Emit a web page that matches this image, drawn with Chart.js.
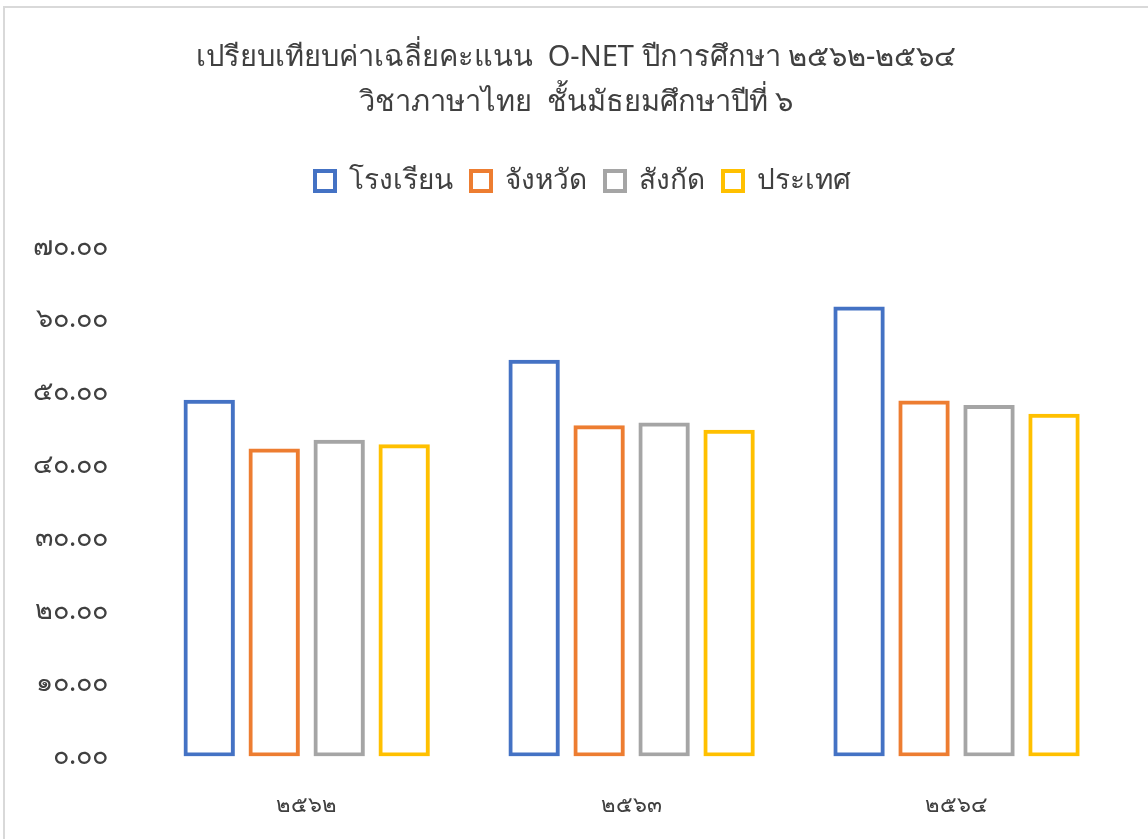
<!DOCTYPE html>
<html>
<head>
<meta charset="utf-8">
<script src="https://cdn.jsdelivr.net/npm/chart.js@4.4.0/dist/chart.umd.min.js"></script>
<style>
  html, body { margin: 0; padding: 0; background: #fff; overflow: hidden; }
  #wrap {
    position: absolute; left: 3px; top: 6px; width: 1160px; height: 840px;
    border-left: 2px solid #d9d9d9; border-top: 2px solid #d9d9d9;
    box-sizing: border-box;
  }
  #box { position: absolute; left: 0; top: 0; width: 1150px; height: 839px; }
</style>
</head>
<body>
<div id="wrap"><div id="box"><canvas id="onetChart"></canvas></div></div>
<script>
// ข้อมูลคะแนนเฉลี่ย O-NET วิชาภาษาไทย ม.6
const years = ["๒๕๖๒", "๒๕๖๓", "๒๕๖๔"];
const school = [49.0, 54.5, 61.8];
const province = [42.3, 45.5, 48.9];
const affiliation = [43.5, 45.9, 48.3];
const country = [42.9, 44.9, 47.1];
const yTickLabels = ["๐.๐๐", "๑๐.๐๐", "๒๐.๐๐", "๓๐.๐๐", "๔๐.๐๐", "๕๐.๐๐", "๖๐.๐๐", "๗๐.๐๐"];

const fontFamily = "'Noto Sans', 'DejaVu Sans', sans-serif";

const makeSet = (label, data, color) => ({
  label: label,
  data: data,
  backgroundColor: "rgba(0,0,0,0)",
  borderColor: color,
  borderWidth: 4,
  borderSkipped: false,
});

// เพิ่มช่องว่างใต้ legend และเลื่อนหัวเรื่อง/legend ไปทางขวาเล็กน้อย
const legendGap = {
  id: "legendGap",
  beforeInit(chart) {
    const fit = chart.legend.fit;
    chart.legend.fit = function () {
      fit.bind(chart.legend)();
      this.height += 42;
    };
  },
  afterLayout(chart) {
    chart.titleBlock.left += 14;
    chart.titleBlock.right += 14;
    chart.legend.left += 21;
    chart.legend.right += 21;
  },
};

const ctx = document.getElementById("onetChart").getContext("2d");

const chart = new Chart(ctx, {
  type: "bar",
  data: {
    labels: years,
    datasets: [
      makeSet("โรงเรียน", school, "#4472C4"),
      makeSet("จังหวัด", province, "#ED7D31"),
      makeSet("สังกัด", affiliation, "#A5A5A5"),
      makeSet("ประเทศ", country, "#FFC000"),
    ],
  },
  options: {
    responsive: true,
    maintainAspectRatio: false,
    animation: false,
    layout: {
      padding: { left: 0, right: 36, top: 27, bottom: 0 },
    },
    datasets: {
      bar: { categoryPercentage: 0.8, barPercentage: 0.79 },
    },
    scales: {
      x: {
        grid: { display: false },
        border: { display: false },
        ticks: {
          color: "#404040",
          font: { family: fontFamily, size: 22 },
          padding: 28,
        },
      },
      y: {
        min: 0,
        max: 70,
        ticks: {
          stepSize: 10,
          color: "#404040",
          padding: 28,
          font: { family: fontFamily, size: 27 },
          callback: (value, index) => yTickLabels[index],
        },
        grid: { display: false },
        border: { display: false },
      },
    },
    plugins: {
      title: {
        display: true,
        text: [
          "เปรียบเทียบค่าเฉลี่ยคะแนน  O-NET ปีการศึกษา ๒๕๖๒-๒๕๖๔",
          "วิชาภาษาไทย  ชั้นมัธยมศึกษาปีที่ ๖",
        ],
        color: "#404040",
        font: { family: fontFamily, size: 29, weight: "normal", lineHeight: 1.55 },
        padding: { top: 0, bottom: 24 },
      },
      legend: {
        labels: {
          color: "#404040",
          font: { family: fontFamily, size: 28 },
          boxWidth: 20,
          boxHeight: 20,
          padding: 18,
        },
      },
      tooltip: { enabled: false },
    },
  },
  plugins: [legendGap],
});
</script>
</body>
</html>
